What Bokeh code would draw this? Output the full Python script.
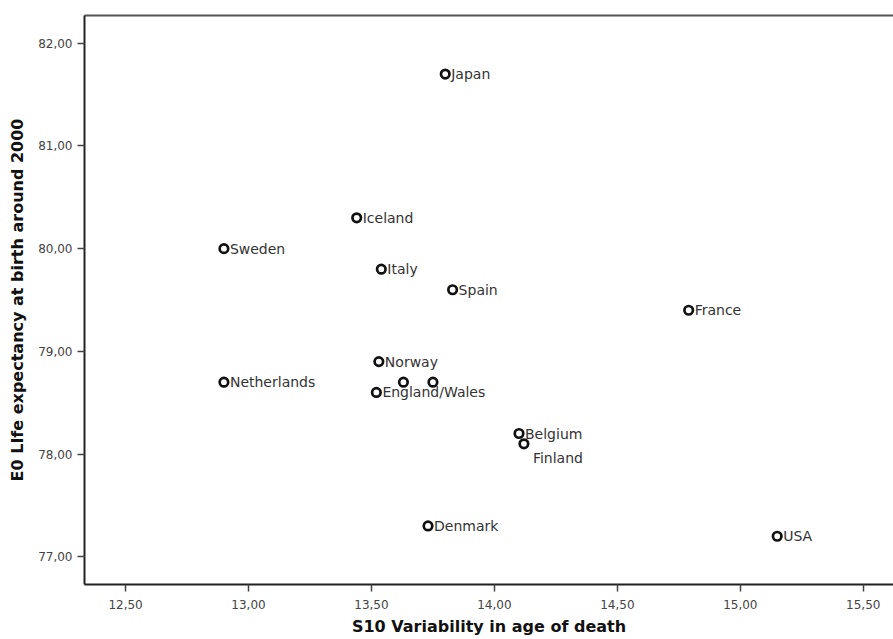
from bokeh.plotting import figure
from bokeh.models import ColumnDataSource, Range1d, FixedTicker, CustomJSTickFormatter, LinearAxis
from bokeh.core.properties import value
from bokeh.embed import file_html
from bokeh.resources import INLINE

countries = ["Japan", "Iceland", "Sweden", "Italy", "Spain", "France", "Norway",
             "Netherlands", "", "", "England/Wales", "Belgium", "Finland", "Denmark", "USA"]
s10 = [13.80, 13.44, 12.90, 13.54, 13.83, 14.79, 13.53,
       12.90, 13.63, 13.75, 13.52, 14.10, 14.12, 13.73, 15.15]
e0 = [81.70, 80.30, 80.00, 79.80, 79.60, 79.40, 78.90,
      78.70, 78.70, 78.70, 78.60, 78.20, 78.10, 77.30, 77.20]
x_ticks = [12.5, 13.0, 13.5, 14.0, 14.5, 15.0, 15.5]
y_ticks = [77, 78, 79, 80, 81, 82]

FONT = "DejaVu Sans"

dx = [6 if c != "Finland" else 9 for c in countries]
dy = [0 if c != "Finland" else 14 for c in countries]

src = ColumnDataSource(dict(x=s10, y=e0, name=countries, dx=dx, dy=dy))

p = figure(width=893, height=639, output_backend="svg", toolbar_location=None,
           x_range=Range1d(12.333, 15.623), y_range=Range1d(76.73, 82.27),
           min_border_left=84, min_border_right=0, min_border_top=15, min_border_bottom=55,
           background_fill_color="white", border_fill_color="white")
p.outline_line_color = None
p.grid.visible = False

fmt = CustomJSTickFormatter(code="return tick.toFixed(2).replace('.', ',');")

for ax, ticks in ((p.xaxis[0], x_ticks), (p.yaxis[0], y_ticks)):
    ax.ticker = FixedTicker(ticks=ticks)
    ax.formatter = fmt
    ax.axis_line_color = "#222222"
    ax.axis_line_width = 2
    ax.major_tick_line_color = "#444444"
    ax.major_tick_line_width = 1.5
    ax.major_tick_out = 7
    ax.major_tick_in = 0
    ax.minor_tick_line_color = None
    ax.major_label_text_font = FONT
    ax.major_label_text_font_size = "12px"
    ax.major_label_text_color = "#444444"
    ax.axis_label_text_font = FONT
    ax.axis_label_text_font_size = "16px"
    ax.axis_label_text_font_style = "bold"
    ax.axis_label_text_color = "#111111"

p.xaxis.axis_label = "S10 Variability in age of death"
p.yaxis.axis_label = "E0 LIfe expectancy at birth around 2000"
p.xaxis.major_label_standoff = 8
p.xaxis.axis_label_standoff = 5
p.yaxis.major_label_standoff = 5
p.yaxis.axis_label_standoff = 8

top = LinearAxis(ticker=FixedTicker(ticks=[]), axis_line_color="#555555", axis_line_width=2,
                 major_tick_line_color=None, minor_tick_line_color=None,
                 major_label_text_font_size="0px")
p.add_layout(top, "above")

p.scatter("x", "y", source=src, size=8.5, marker="circle", fill_color="white",
          line_color="#111111", line_width=2.7)
p.text("x", "y", text="name", source=src, x_offset="dx", y_offset="dy",
       text_font=value(FONT), text_font_size="14px", text_color="#333333",
       text_baseline="middle", text_align="left")

open("out.html", "w").write(file_html(p, INLINE))
